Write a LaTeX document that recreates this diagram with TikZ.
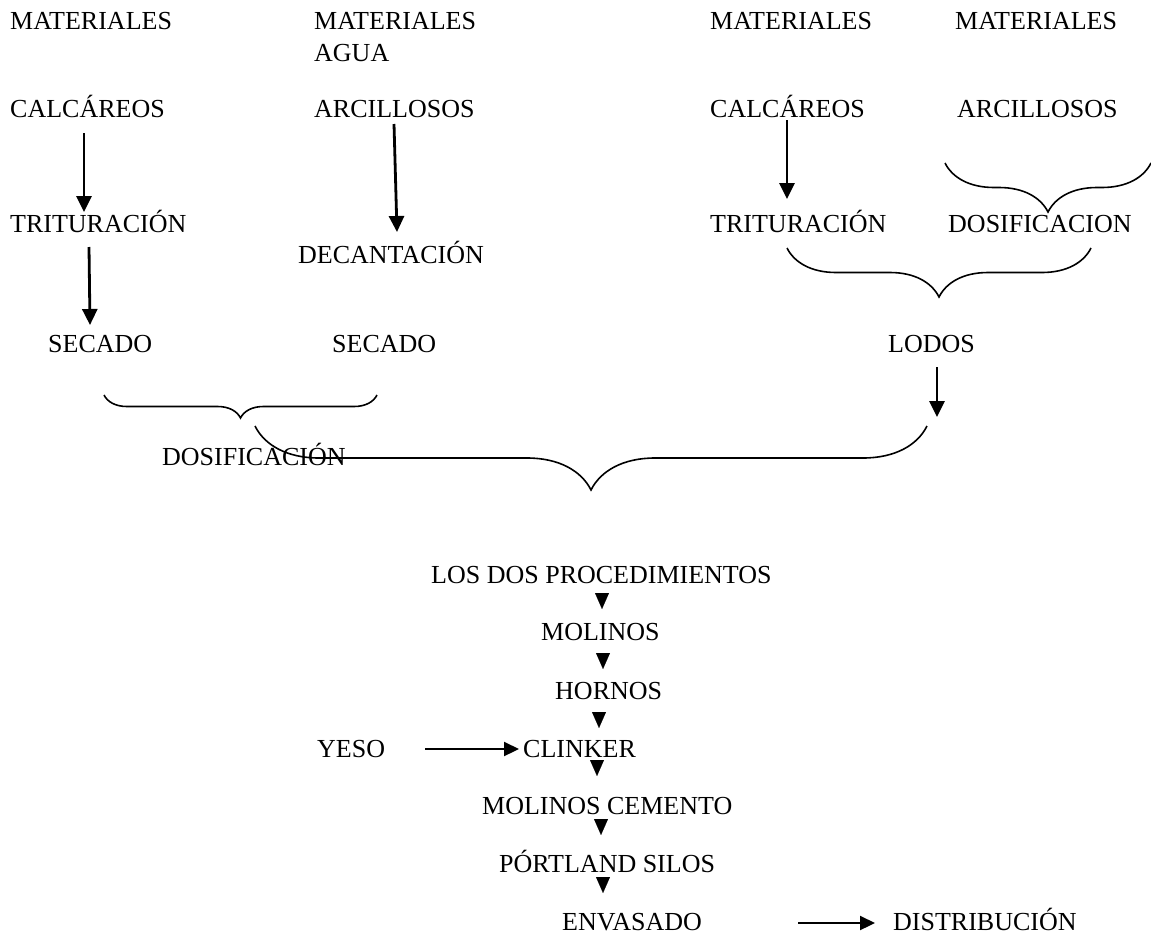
\documentclass[tikz,border=0pt]{standalone}
\usepackage{fontspec}
\setmainfont{Liberation Serif}
\usetikzlibrary{arrows.meta, calc, decorations.pathreplacing}

\begin{document}
\begin{tikzpicture}[
    x=1pt, y=-1pt,
    font=\fontsize{26}{30}\selectfont,
    txt/.style={anchor=base west, inner sep=0pt},
    flow/.style={-{Triangle[length=16pt, width=15pt]}, line width=2.8pt},
    feed/.style={-{Triangle[length=15pt, width=14pt]}, line width=2.2pt},
    tri/.style={-{Triangle[length=16pt, width=14pt]}, line width=0.1pt},
    grp/.style={decorate, line width=1.6pt,
                decoration={brace, mirror, amplitude=#1}},
]
\useasboundingbox (0,0) rectangle (1151,935);

% --- Dry process (left) ---
\node[txt] (mat1) at (10, 29) {MATERIALES};
\node[txt] (mat2) at (314, 29) {MATERIALES};
\node[txt] (agua) at (314, 61) {AGUA};
\node[txt] (calc1) at (10, 117) {CALCÁREOS};
\node[txt] (arc1) at (314, 117) {ARCILLOSOS};
\node[txt] (trit1) at (10, 232) {TRITURACIÓN};
\node[txt] (dec) at (298, 263) {DECANTACIÓN};
\node[txt] (sec1) at (48, 352) {SECADO};
\node[txt] (sec2) at (332, 352) {SECADO};
\node[txt] (dosL) at (162, 465) {DOSIFICACIÓN};

\draw[flow] ($(calc1.base west)+(74,16)$) -- ($(trit1.base west)+(74,-20)$);
\draw[flow] ($(arc1.base west)+(80,7)$) -- ($(dec.base west)+(99,-31)$);
\draw[flow] ($(trit1.base west)+(79,15)$) -- ($(sec1.base west)+(42,-27)$);

\draw[grp=23pt] ($(sec1.base west)+(56,43)$) -- ($(sec2.base west)+(45,43)$);

% --- Wet process (right) ---
\node[txt] (mat3) at (710, 29) {MATERIALES};
\node[txt] (mat4) at (955, 29) {MATERIALES};
\node[txt] (calc2) at (710, 117) {CALCÁREOS};
\node[txt] (arc2) at (957, 117) {ARCILLOSOS};
\node[txt] (trit2) at (710, 232) {TRITURACIÓN};
\node[txt] (dosR) at (948, 232) {DOSIFICACION};
\node[txt] (lodos) at (888, 352) {LODOS};

\draw[flow] ($(calc2.base west)+(77,3)$) -- ($(trit2.base west)+(77,-33)$);
\draw[flow] ($(lodos.base west)+(49,15)$) -- ++(0,50);

\draw[grp=49pt] ($(arc2.base west)+(-12,46)$) -- ($(arc2.base west)+(194,46)$);
\draw[grp=49pt] ($(trit2.base west)+(77,16)$) -- ($(dosR.base west)+(143,16)$);

% both processes join
\draw[grp=64pt] ($(dosL.base west)+(93,-39)$) -- ($(lodos.base west)+(39,74)$);

% --- Common line ---
\node[txt] (ldp) at (431, 583) {LOS DOS PROCEDIMIENTOS};
\node[txt] (mol) at (541, 640) {MOLINOS};
\node[txt] (horn) at (555, 699) {HORNOS};
\node[txt] (yeso) at (317, 757) {YESO};
\node[txt] (clink) at (523, 757) {CLINKER};
\node[txt] (molc) at (482, 814) {MOLINOS CEMENTO};
\node[txt] (port) at (499, 872) {PÓRTLAND SILOS};
\node[txt] (env) at (562, 930) {ENVASADO};
\node[txt] (dist) at (893, 930) {DISTRIBUCIÓN};

\draw[tri] ($(ldp.base west)+(171,10)$) -- ++(0,16);
\draw[tri] ($(mol.base west)+(62,13)$) -- ++(0,16);
\draw[tri] ($(horn.base west)+(44,13)$) -- ++(0,16);
\draw[tri] ($(clink.base west)+(74,3)$) -- ++(0,16);
\draw[tri] ($(molc.base west)+(119,5)$) -- ++(0,16);
\draw[tri] ($(port.base west)+(104,5)$) -- ++(0,16);

\draw[feed] ($(yeso.base west)+(108,-8)$) -- ($(clink.base west)+(-4,-8)$);
\draw[feed] ($(env.base west)+(236,-7)$) -- ($(dist.base west)+(-18,-7)$);

\end{tikzpicture}
\end{document}
